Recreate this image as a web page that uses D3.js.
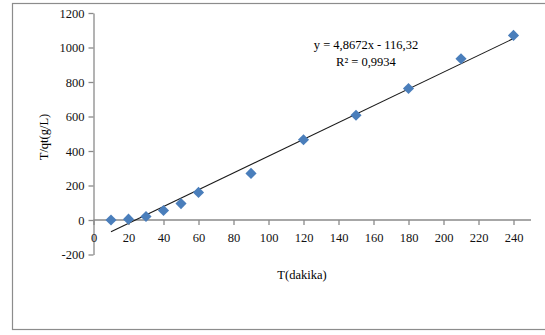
<!DOCTYPE html>
<html>
<head>
<meta charset="utf-8">
<script src="https://cdn.jsdelivr.net/npm/d3@7"></script>
<style>
  body { margin: 0; background: #fff; }
  svg text { font-family: "Liberation Serif", "Times New Roman", serif; }
</style>
</head>
<body>
<div id="chart"></div>
<script>
// data
var times = [10, 20, 30, 40, 50, 60, 90, 120, 150, 180, 210, 240];
var tq = [0, 5, 20, 55, 95, 160, 270, 465, 607, 762, 935, 1070];
var xTicks = [0, 20, 40, 60, 80, 100, 120, 140, 160, 180, 200, 220, 240];
var yTicks = [-200, 0, 200, 400, 600, 800, 1000, 1200];
var slope = 4.8672, intercept = -116.32;
var eqText = "y = 4,8672x - 116,32";
var r2Text = "R² = 0,9934";

var width = 545, height = 335;
var serif = "'Liberation Serif', 'Times New Roman', serif";

var svg = d3.select("#chart")
  .append("svg")
    .attr("width", width)
    .attr("height", height);

// outer chart frame (right side runs off the picture)
svg.append("rect")
  .attr("x", 12.5)
  .attr("y", 3.5)
  .attr("width", 540)
  .attr("height", 326)
  .attr("fill", "none")
  .attr("stroke", "#8c8c8c")
  .attr("stroke-width", 1.2);

var x = d3.scaleLinear()
    .domain([0, 250])
    .range([93.5, 531]);

var y = d3.scaleLinear()
    .domain([-200, 1200])
    .range([254.5, 13]);

var plain = function(d) { return String(d); };

// y axis
var yAxis = svg.append("g")
  .attr("transform", "translate(" + x(0) + ",0)")
  .call(d3.axisLeft(y).tickValues(yTicks).tickFormat(plain).tickSize(5).tickSizeOuter(0).tickPadding(4));

// x axis sits on the zero line
var xAxis = svg.append("g")
  .attr("transform", "translate(0," + y(0) + ")")
  .call(d3.axisBottom(x).tickValues(xTicks).tickFormat(plain).tickSize(5).tickSizeOuter(0).tickPadding(8));

[yAxis, xAxis].forEach(function(a) {
  a.attr("font-family", serif).attr("font-size", 12.5);
  a.selectAll("path, line").attr("stroke", "#8a8a8a").attr("stroke-width", 1.3);
  a.selectAll("text").attr("fill", "#111");
});
xAxis.select(".domain").attr("d", "M" + x(0) + ",0H" + x(250));

// trend line
var trendX = [d3.min(times), d3.max(times)];
svg.append("line")
  .attr("x1", x(trendX[0]))
  .attr("y1", y(slope * trendX[0] + intercept))
  .attr("x2", x(trendX[1]))
  .attr("y2", y(slope * trendX[1] + intercept))
  .attr("stroke", "#1a1a1a")
  .attr("stroke-width", 1.1);

// diamonds
var diamond = d3.symbol().type(d3.symbolSquare).size(62);
svg.append("g")
  .selectAll("path")
  .data(times)
  .enter()
  .append("path")
    .attr("d", diamond)
    .attr("fill", "#4a7ebb")
    .attr("transform", function(d, i) { return "translate(" + x(d) + "," + y(tq[i]) + ") rotate(45)"; });

// equation label
svg.append("text")
  .attr("x", 366)
  .attr("y", 49)
  .attr("text-anchor", "middle")
  .style("font-size", "12.5px")
  .text(eqText);
svg.append("text")
  .attr("x", 366)
  .attr("y", 66)
  .attr("text-anchor", "middle")
  .style("font-size", "12.5px")
  .text(r2Text);

// axis titles
svg.append("text")
  .attr("x", 302)
  .attr("y", 279)
  .attr("text-anchor", "middle")
  .style("font-size", "12.5px")
  .text("T(dakika)");

svg.append("text")
  .attr("transform", "translate(48,137) rotate(-90)")
  .attr("text-anchor", "middle")
  .style("font-size", "12.5px")
  .text("T/qt(g/L)");
</script>
</body>
</html>
